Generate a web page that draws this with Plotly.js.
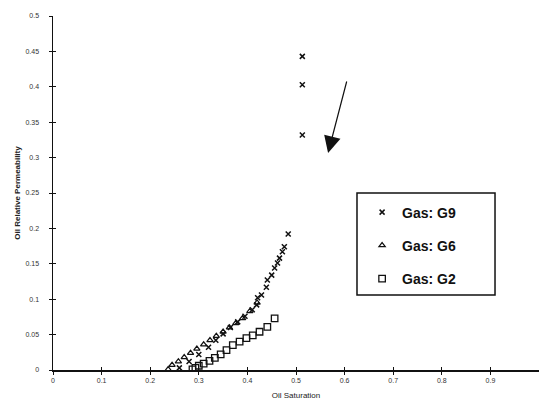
<!DOCTYPE html>
<html>
<head>
<meta charset="utf-8">
<script src="https://cdn.plot.ly/plotly-3.0.1.min.js"></script>
<style>html,body{margin:0;padding:0;background:#fff;}#chart{width:539px;height:410px;}</style>
</head>
<body>
<div id="chart"></div>
<script>
// Oil saturation (x) and oil relative permeability (y) per gas
const g9Sat  = [0.260, 0.280, 0.300, 0.320, 0.335, 0.350, 0.365, 0.380, 0.395, 0.410, 0.419, 0.421, 0.429, 0.439, 0.441, 0.450, 0.456, 0.462, 0.466, 0.472, 0.476, 0.484, 0.513, 0.513, 0.513];
const g9Kro  = [0.003, 0.012, 0.022, 0.032, 0.042, 0.051, 0.060, 0.068, 0.076, 0.085, 0.092, 0.102, 0.106, 0.117, 0.127, 0.134, 0.144, 0.151, 0.158, 0.167, 0.174, 0.192, 0.332, 0.403, 0.443];
const g6Sat  = [0.237, 0.245, 0.258, 0.270, 0.283, 0.296, 0.310, 0.323, 0.336, 0.350, 0.363, 0.376, 0.390, 0.405, 0.420];
const g6Kro  = [0.001, 0.007, 0.012, 0.018, 0.024, 0.030, 0.036, 0.042, 0.048, 0.054, 0.060, 0.066, 0.073, 0.083, 0.095];
const g2Sat  = [0.287, 0.293, 0.300, 0.310, 0.322, 0.333, 0.345, 0.357, 0.370, 0.384, 0.398, 0.411, 0.425, 0.441, 0.456];
const g2Kro  = [0.001, 0.003, 0.006, 0.009, 0.013, 0.017, 0.022, 0.028, 0.035, 0.040, 0.045, 0.049, 0.054, 0.061, 0.073];
const seriesNames = ['Gas: G9', 'Gas: G6', 'Gas: G2'];
const xTicks = [0, 0.1, 0.2, 0.3, 0.4, 0.5, 0.6, 0.7, 0.8, 0.9];
const xTickText = ['0', '0.1', '0.2', '0.3', '0.4', '0.5', '0.6', '0.7', '0.8', '0.9'];
const yTicks = [0, 0.05, 0.1, 0.15, 0.2, 0.25, 0.3, 0.35, 0.4, 0.45, 0.5];
const yTickText = ['0', '0.05', '0.1', '0.15', '0.2', '0.25', '0.3', '0.35', '0.4', '0.45', '0.5'];

const traces = [
  {x: g9Sat, y: g9Kro, name: seriesNames[0], type: 'scatter', mode: 'markers', legendgroup: 'a',
   marker: {symbol: 'x-thin-open', size: 5, color: '#111', line: {color: '#111', width: 1.5}}},
  {x: g6Sat, y: g6Kro, name: seriesNames[1], type: 'scatter', mode: 'markers', legendgroup: 'b',
   marker: {symbol: 'triangle-up-open', size: 5.5, color: '#111', line: {color: '#111', width: 1.2}}},
  {x: g2Sat, y: g2Kro, name: seriesNames[2], type: 'scatter', mode: 'markers', legendgroup: 'c',
   marker: {symbol: 'square-open', size: 6.5, color: '#111', line: {color: '#111', width: 1.3}}},
  // overlay axes for ticks crossing the axis lines
  {x: [0], y: [0], xaxis: 'x2', yaxis: 'y2', mode: 'markers', marker: {opacity: 0}, showlegend: false, hoverinfo: 'skip'}
];

const layout = {
  width: 539, height: 410,
  margin: {l: 53, r: 0, t: 16, b: 40},
  paper_bgcolor: '#fff', plot_bgcolor: '#fff',
  font: {family: 'Liberation Sans, Arial, sans-serif', color: '#222'},
  showlegend: true,
  xaxis: {
    range: [0, 1], tickvals: xTicks, ticktext: xTickText,
    showgrid: false, zeroline: false, showline: true, linecolor: '#111', linewidth: 1.5,
    ticks: 'outside', ticklen: 3, tickwidth: 1, tickcolor: '#111',
    tickfont: {size: 7, color: '#333'},
    title: {text: 'Oil Saturation', font: {size: 8, color: '#222'}, standoff: 9}
  },
  yaxis: {
    range: [0, 0.5], tickvals: yTicks, ticktext: yTickText,
    showgrid: false, zeroline: false, showline: true, linecolor: '#111', linewidth: 1.5,
    ticks: 'outside', ticklen: 3, tickwidth: 1, tickcolor: '#111',
    tickfont: {size: 7, color: '#333'}, ticklabelstandoff: 8,
    title: {text: '<b>Oil Relative Permeability</b>', font: {size: 8, color: '#222'}, standoff: 3}
  },
  xaxis2: {overlaying: 'x', range: [0, 1], tickvals: xTicks, showticklabels: false, ticks: 'inside', ticklen: 3,
    tickcolor: '#111', showgrid: false, zeroline: false, showline: false, side: 'bottom'},
  yaxis2: {overlaying: 'y', range: [0, 0.5], tickvals: yTicks, showticklabels: false, ticks: 'inside', ticklen: 3,
    tickcolor: '#111', showgrid: false, zeroline: false, showline: false, side: 'left'},
  legend: {
    x: 0.636, y: 0.49, xanchor: 'left', yanchor: 'top',
    bgcolor: 'rgba(0,0,0,0)', borderwidth: 0, traceorder: 'grouped', tracegroupgap: 12,
    font: {family: 'Liberation Sans, Arial, sans-serif', size: 14, color: '#111', weight: 'bold'}
  },
  shapes: [
    {type: 'rect', xref: 'paper', yref: 'paper', x0: 0.6255, x1: 0.9095, y0: 0.2119, y1: 0.5,
     line: {color: '#111', width: 1.5}, fillcolor: 'rgba(0,0,0,0)'}
  ],
  annotations: [
    {x: 0.566, y: 0.3065, xref: 'x', yref: 'y', ax: 19, ay: -73, text: '', showarrow: true,
     arrowhead: 2, arrowsize: 2.8, arrowwidth: 1.2, arrowcolor: '#111'}
  ]
};

Plotly.newPlot('chart', traces, layout, {displayModeBar: false, staticPlot: true});
</script>
</body>
</html>
